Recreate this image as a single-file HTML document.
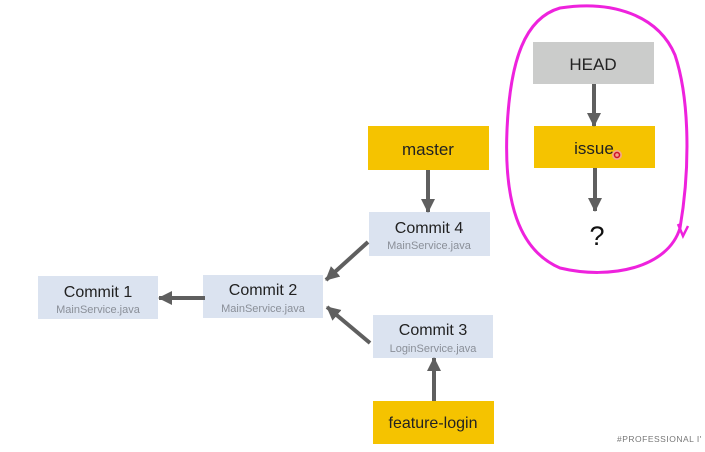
<!DOCTYPE html>
<html><head><style>
html,body{margin:0;padding:0;background:#fff;}
svg{display:block;}
text{font-family:"Liberation Sans","DejaVu Sans",sans-serif;}
</style></head><body>
<svg width="705" height="452" viewBox="0 0 705 452" xmlns="http://www.w3.org/2000/svg">
<defs>
<marker id="ah" markerWidth="16" markerHeight="16" refX="13" refY="7" orient="auto" markerUnits="userSpaceOnUse">
<path d="M0,0 L14,7 L0,14 z" fill="#5f5f5f"/>
</marker>
</defs>
<rect x="533" y="42" width="121" height="42" fill="#cbcccb"/>
<text x="593" y="70" font-size="17" text-anchor="middle" fill="#222">HEAD</text>
<rect x="534" y="126" width="121" height="42" fill="#f5c300"/>
<text x="594" y="154" font-size="17" text-anchor="middle" fill="#222">issue</text>
<text x="597" y="245" font-size="27" text-anchor="middle" fill="#111">?</text>

<rect x="368" y="126" width="121" height="44" fill="#f5c300"/>
<text x="428" y="155" font-size="17" text-anchor="middle" fill="#222">master</text>

<rect x="369" y="212" width="121" height="44" fill="#dbe3f0"/>
<text x="429" y="233" font-size="16" text-anchor="middle" fill="#222">Commit 4</text>
<text x="429" y="249" font-size="11" text-anchor="middle" fill="#8a8f98">MainService.java</text>

<rect x="203" y="275" width="120" height="43" fill="#dbe3f0"/>
<text x="263" y="295" font-size="16" text-anchor="middle" fill="#222">Commit 2</text>
<text x="263" y="312" font-size="11" text-anchor="middle" fill="#8a8f98">MainService.java</text>

<rect x="38" y="276" width="120" height="43" fill="#dbe3f0"/>
<text x="98" y="297" font-size="16" text-anchor="middle" fill="#222">Commit 1</text>
<text x="98" y="313" font-size="11" text-anchor="middle" fill="#8a8f98">MainService.java</text>

<rect x="373" y="315" width="120" height="43" fill="#dbe3f0"/>
<text x="433" y="335" font-size="16" text-anchor="middle" fill="#222">Commit 3</text>
<text x="433" y="352" font-size="11" text-anchor="middle" fill="#8a8f98">LoginService.java</text>

<rect x="373" y="401" width="121" height="43" fill="#f5c300"/>
<text x="433" y="428" font-size="16" text-anchor="middle" fill="#222">feature-login</text>

<g stroke="#5f5f5f" stroke-width="4" fill="none">
<line x1="594" y1="84" x2="594" y2="126" marker-end="url(#ah)"/>
<line x1="595" y1="168" x2="595" y2="211" marker-end="url(#ah)"/>
<line x1="428" y1="170" x2="428" y2="212" marker-end="url(#ah)"/>
<line x1="368" y1="242" x2="326" y2="280" marker-end="url(#ah)"/>
<line x1="205" y1="298" x2="159" y2="298" marker-end="url(#ah)"/>
<line x1="370" y1="343" x2="327" y2="307" marker-end="url(#ah)"/>
<line x1="434" y1="401" x2="434" y2="358" marker-end="url(#ah)"/>
</g>

<path d="M560,8 C525,18 510,60 507,130 C504,200 518,250 560,268 C610,280 668,268 680,228 C690,170 690,100 675,55 C658,15 612,0 560,8 Z" fill="none" stroke="#ee22dd" stroke-width="3"/>
<path d="M678,224 L683,236 L688,226" fill="none" stroke="#ee22dd" stroke-width="2.5"/>
<circle cx="617" cy="155" r="5" fill="#f4a0a8" opacity="0.8"/>
<circle cx="617" cy="155" r="2.5" fill="none" stroke="#d0102a" stroke-width="1.5"/>

<text x="617" y="442" font-size="8.5" fill="#777" letter-spacing="0.5">#PROFESSIONAL I'</text>
</svg>
</body></html>
